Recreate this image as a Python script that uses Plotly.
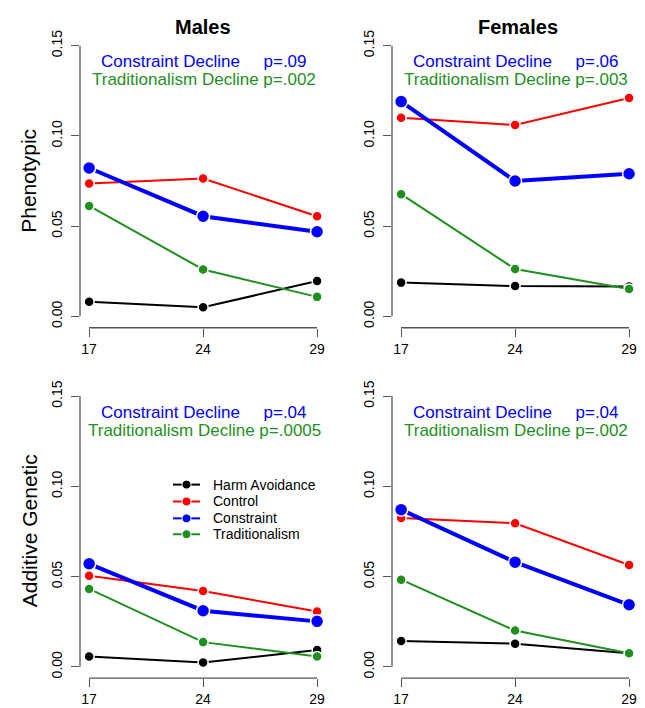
import plotly.graph_objects as go

ages = ["17", "24", "29"]
age_pos = [1, 2, 3]
series_names = ["Harm Avoidance", "Control", "Constraint", "Traditionalism"]
series_colors = ["#000000", "#FF0000", "#0000FF", "#1F8F1F"]

# Phenotypic, Males
ph_m_harm = [0.0081, 0.0050, 0.0196]
ph_m_control = [0.0736, 0.0764, 0.0555]
ph_m_constraint = [0.0822, 0.0555, 0.0469]
ph_m_trad = [0.0612, 0.0260, 0.0108]
# Phenotypic, Females
ph_f_harm = [0.0187, 0.0168, 0.0165]
ph_f_control = [0.1100, 0.1060, 0.1210]
ph_f_constraint = [0.1190, 0.0750, 0.0790]
ph_f_trad = [0.0677, 0.0262, 0.0152]
# Additive genetic, Males
ag_m_harm = [0.0057, 0.0024, 0.0093]
ag_m_control = [0.0505, 0.0420, 0.0307]
ag_m_constraint = [0.0571, 0.0311, 0.0252]
ag_m_trad = [0.0432, 0.0137, 0.0057]
# Additive genetic, Females
ag_f_harm = [0.0143, 0.0128, 0.0075]
ag_f_control = [0.0825, 0.0796, 0.0564]
ag_f_constraint = [0.0871, 0.0580, 0.0344]
ag_f_trad = [0.0483, 0.0201, 0.0075]

y_ticks = [0.00, 0.05, 0.10, 0.15]
y_ticktext = ["0.00", "0.05", "0.10", "0.15"]

panel_texts = [
    ("p=.09", "p=.002"),
    ("p=.06", "p=.003"),
    ("p=.04", "p=.0005"),
    ("p=.04", "p=.002"),
]

panels = [
    [ph_m_harm, ph_m_control, ph_m_constraint, ph_m_trad],
    [ph_f_harm, ph_f_control, ph_f_constraint, ph_f_trad],
    [ag_m_harm, ag_m_control, ag_m_constraint, ag_m_trad],
    [ag_f_harm, ag_f_control, ag_f_constraint, ag_f_trad],
]

# page body has an 8px margin: design in window pixels, shift by OFF
OFF = 8
W, H = 645 - OFF, 708 - OFF
FONT = "Liberation Sans, Arial, Helvetica, sans-serif"
AXC = "#555555"


def px(v):
    return (v - OFF) / W


def py(v):
    return 1 - (v - OFF) / H


# panel geometry in window pixels: (left, right, top, bottom)
geom = [
    (80, 326.2, 30.0, 325.0),
    (392, 638.2, 30.0, 325.0),
    (80, 326.2, 383.0, 678.0),
    (392, 638.2, 383.0, 678.0),
]
yrange = [-0.0063, 0.156]
xrange_ = [0.92, 3.08]

fig = go.Figure()
layout = dict(
    width=W, height=H, margin=dict(l=0, r=0, t=0, b=0),
    paper_bgcolor="white", plot_bgcolor="white",
    font=dict(family=FONT, color="black"),
    showlegend=False,
)
shapes = []
annotations = []

for i, (vals, (l, r, t, b)) in enumerate(zip(panels, geom)):
    n = "" if i == 0 else str(i + 1)
    xa, ya = "x" + n, "y" + n
    for j, (name, col, v) in enumerate(zip(series_names, series_colors, vals)):
        big = name == "Constraint"
        fig.add_trace(go.Scatter(
            x=age_pos, y=v, mode="lines+markers", name=name,
            line=dict(color=col, width=4 if big else 2),
            marker=dict(color=col, size=13 if big else 10,
                        line=dict(color="white", width=1.5)),
            xaxis=xa, yaxis=ya,
        ))
    layout["xaxis" + n] = dict(
        domain=[px(l), px(r)], range=xrange_, anchor=ya,
        tickvals=age_pos, ticktext=ages, ticks="outside", ticklen=8,
        tickcolor=AXC, tickwidth=1.3, showgrid=False, zeroline=False,
        showline=False, tickfont=dict(size=14, color="black"),
    )
    layout["yaxis" + n] = dict(
        domain=[py(b), py(t)], range=yrange, anchor=xa,
        tickvals=y_ticks, ticktext=y_ticktext, ticks="outside", ticklen=8,
        tickcolor=AXC, tickwidth=1.3, showgrid=False, zeroline=False,
        showline=False, tickangle=-90, ticklabelstandoff=3,
        tickfont=dict(size=14, color="black"),
    )
    # detached R-style axis lines
    shapes.append(dict(type="line", xref=xa, yref="paper", x0=1, x1=3,
                       y0=py(b), y1=py(b), line=dict(color=AXC, width=1.3)))
    shapes.append(dict(type="line", xref="paper", yref=ya, x0=px(l), x1=px(l),
                       y0=0, y1=0.15, line=dict(color=AXC, width=1.3)))
    cx = px((l + r) / 2 + 1)
    p1, p2 = panel_texts[i]
    annotations.append(dict(
        x=cx, y=py(t + 27), xref="paper", yref="paper", showarrow=False,
        text="Constraint Decline" + "\u00a0" * 5 + p1, xanchor="center", yanchor="middle",
        font=dict(size=17, color="#0000FF", family=FONT)))
    annotations.append(dict(
        x=cx, y=py(t + 45), xref="paper", yref="paper", showarrow=False,
        text="Traditionalism Decline " + p2, xanchor="center", yanchor="middle",
        font=dict(size=17, color="#1F8F1F", family=FONT)))

annotations += [
    dict(x=px(203), y=py(22), xref="paper", yref="paper", showarrow=False,
         xanchor="center", yanchor="middle",
         text="<b>Males</b>", font=dict(size=20, family=FONT, color="black")),
    dict(x=px(518), y=py(22), xref="paper", yref="paper", showarrow=False,
         xanchor="center", yanchor="middle",
         text="<b>Females</b>", font=dict(size=20, family=FONT, color="black")),
    dict(x=px(29), y=py(177), xref="paper", yref="paper", showarrow=False,
         xanchor="center", yanchor="middle",
         text="Phenotypic", textangle=-90, font=dict(size=21, family=FONT, color="black")),
    dict(x=px(29), y=py(530), xref="paper", yref="paper", showarrow=False,
         xanchor="center", yanchor="middle",
         text="Additive Genetic", textangle=-90, font=dict(size=21, family=FONT, color="black")),
]

# R-style legend in the lower-left panel
leg_rows = [483, 500, 517, 533]
for name, col, yy in zip(series_names, series_colors, leg_rows):
    shapes.append(dict(type="line", xref="paper", yref="paper",
                       x0=px(173), x1=px(200), y0=py(yy), y1=py(yy),
                       line=dict(color=col, width=2)))
    shapes.append(dict(type="circle", xref="paper", yref="paper",
                       x0=px(182), x1=px(191), y0=py(yy + 4.5), y1=py(yy - 4.5),
                       fillcolor=col, line=dict(color="white", width=1)))
    annotations.append(dict(
        x=px(211), y=py(yy), xref="paper", yref="paper", showarrow=False,
        xanchor="left", yanchor="middle", text=name,
        font=dict(size=14, family=FONT, color="black")))

layout["shapes"] = shapes
layout["annotations"] = annotations
fig.update_layout(**layout)
fig.write_html("out.html")
